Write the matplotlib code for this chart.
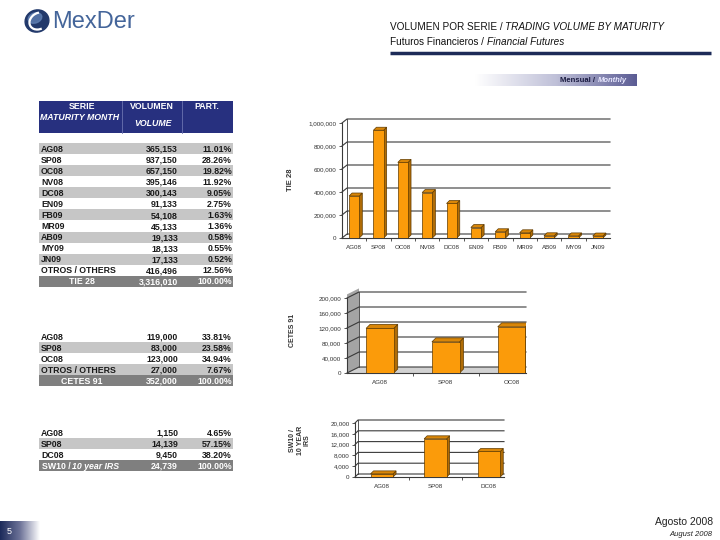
import numpy as np
import matplotlib
matplotlib.use("Agg")
import matplotlib.pyplot as plt
import matplotlib.colors as mcolors
from matplotlib.patches import Polygon, Ellipse, Arc, Rectangle

plt.rcParams['font.family'] = ['Liberation Sans', 'DejaVu Sans']

# ---- data ----
tie_series = ['AG08', 'SP08', 'OC08', 'NV08', 'DC08', 'EN09', 'FB09', 'MR09', 'AB09', 'MY09', 'JN09']
tie_volume = [365153, 937150, 657150, 395146, 300143, 91133, 54108, 45133, 19133, 18133, 17133]
tie_part = [11.01, 28.26, 19.82, 11.92, 9.05, 2.75, 1.63, 1.36, 0.58, 0.55, 0.52]
tie_others = (416496, 12.56)
tie_total = 3316010

cetes_series = ['AG08', 'SP08', 'OC08']
cetes_volume = [119000, 83000, 123000]
cetes_part = [33.81, 23.58, 34.94]
cetes_others = (27000, 7.67)
cetes_total = 352000

sw_series = ['AG08', 'SP08', 'DC08']
sw_volume = [1150, 14139, 9450]
sw_part = [4.65, 57.15, 38.20]
sw_total = 24739

W, H = 720, 540
NAVY = '#27307f'
ORANGE = '#fb9b0a'
SIDE = '#b06c06'
TOP = '#d98608'
EDGE = '#5e3a00'
VA = 'baseline'
BL = 3.1  # baseline offset below row centre, px

fig = plt.figure(figsize=(7.2, 5.4), dpi=100)
bg = fig.add_axes([0, 0, 1, 1])
bg.set_xlim(0, W)
bg.set_ylim(H, 0)
bg.axis('off')

# logo
bg.add_patch(Ellipse((37, 21), 24, 22, angle=-20, color='#22396b'))
bg.add_patch(Ellipse((35, 18), 14, 10, angle=-20, color='#5f7fb2', alpha=0.8))
bg.add_patch(Arc((39, 21), 20, 16, angle=-30, theta1=100, theta2=300, color='white', lw=1.6))
bg.text(52, 22, 'MexDer', fontsize=17, color='#44659a', va='center', ha='left')

# header title
t1 = bg.text(390, 30, 'VOLUMEN POR SERIE / ', fontsize=7.2, color='#111', va='baseline')
bg.annotate('TRADING VOLUME BY MATURITY', xy=(1, 0), xycoords=t1, fontsize=7.2,
            style='italic', color='#111', va='bottom')
t2 = bg.text(390, 45, 'Futuros Financieros / ', fontsize=7.2, color='#111', va='baseline')
bg.annotate('Financial Futures', xy=(1, 0), xycoords=t2, fontsize=7.2,
            style='italic', color='#111', va='bottom')
bg.plot([390, 711], [53, 53], color='#1d2b58', lw=2.5, solid_capstyle='butt')

# monthly banner
grad = np.linspace(0, 1, 256).reshape(1, -1)
cm_month = mcolors.LinearSegmentedColormap.from_list('m', ['#ffffff', '#bfc0d8', '#5b5c94'])
bg.imshow(grad, cmap=cm_month, extent=[475, 637, 86, 74], aspect='auto', zorder=1)
bg.text(597, 80.5, 'Mensual / ', fontsize=5.5, weight='bold', color='#1a1a40',
        ha='right', va='center', zorder=2)
bg.text(598, 80.5, 'Monthly', fontsize=5.5, weight='bold', style='italic', color='#e8e8ff',
        ha='left', va='center', zorder=2)

# page number box
cm_page = mcolors.LinearSegmentedColormap.from_list('p', ['#1c2a5a', '#6d7398', '#ffffff'])
bg.imshow(grad, cmap=cm_page, extent=[0, 40, 540, 521], aspect='auto', zorder=1)
bg.text(9, 531, '5', fontsize=6.5, color='white', va='center', ha='center', zorder=2)
bg.text(713, 522, 'Agosto 2008', fontsize=7.5, color='#222', ha='right', va='center')
bg.text(712, 535, 'August 2008', fontsize=5.5, style='italic', color='#222', ha='right', va='center')

# ---- tables ----
X0, X1 = 39, 233
RH = 11.07
FS = 6.3


def table_row(y, label, vol, pct, fill):
    if fill:
        bg.add_patch(Rectangle((X0, y), X1 - X0, RH, color=fill, lw=0))
    yb = y + RH / 2 + BL
    bg.text(41, yb, label, fontsize=FS, weight='bold', color='#1a1a1a', va=VA)
    bg.text(178, yb, f'{vol:,}', fontsize=FS, weight='bold', color='#1a1a1a', va=VA, ha='right')
    bg.text(232, yb, f'{pct:.2f}%', fontsize=FS, weight='bold', color='#1a1a1a', va=VA, ha='right')


def total_row(y, label, vol, italic_tail=None):
    bg.add_patch(Rectangle((X0, y), X1 - X0, RH, color='#7f7f7f', lw=0))
    yb = y + RH / 2 + BL
    if italic_tail:
        tl = bg.text(42, yb, label, fontsize=FS, weight='bold', color='white', va=VA)
        bg.text(72, yb, italic_tail, fontsize=FS, weight='bold', style='italic',
                color='white', va=VA)
    else:
        bg.text(82, yb, label, fontsize=FS, weight='bold', color='white', va=VA, ha='center')
    bg.text(178, yb, f'{vol:,}', fontsize=FS, weight='bold', color='white', va=VA, ha='right')
    bg.text(232, yb, '100.00%', fontsize=FS, weight='bold', color='white', va=VA, ha='right')


# header of first table
bg.add_patch(Rectangle((X0, 101), X1 - X0, 32, color=NAVY, lw=0))
for xs in (122, 182):
    bg.plot([xs, xs], [101, 133], color='#6b72b0', lw=0.6)
bg.text(82, 106 + BL, 'SERIE', fontsize=FS, weight='bold', color='white', ha='center', va=VA)
bg.text(80, 117 + BL, 'MATURITY MONTH', fontsize=FS, weight='bold', style='italic', color='white',
        ha='center', va=VA)
bg.text(152, 106 + BL, 'VOLUMEN', fontsize=FS, weight='bold', color='white', ha='center', va=VA)
bg.text(153, 123 + BL, 'VOLUME', fontsize=FS, weight='bold', style='italic', color='white',
        ha='center', va=VA)
bg.text(207, 106 + BL, 'PART.', fontsize=FS, weight='bold', color='white', ha='center', va=VA)

y = 143
for i, (s, v, p) in enumerate(zip(tie_series, tie_volume, tie_part)):
    table_row(y, s, v, p, '#c6c6c6' if i % 2 == 0 else None)
    y += RH
table_row(y, 'OTROS / OTHERS', tie_others[0], tie_others[1], None)
total_row(y + RH, 'TIE 28', tie_total)

y = 331
for i, (s, v, p) in enumerate(zip(cetes_series, cetes_volume, cetes_part)):
    table_row(y, s, v, p, '#c6c6c6' if i % 2 == 1 else None)
    y += RH
table_row(y, 'OTROS / OTHERS', cetes_others[0], cetes_others[1], '#c6c6c6')
total_row(y + RH, 'CETES 91', cetes_total)

y = 427
for i, (s, v, p) in enumerate(zip(sw_series, sw_volume, sw_part)):
    table_row(y, s, v, p, '#c6c6c6' if i % 2 == 1 else None)
    y += RH
total_row(y, 'SW10 / ', sw_total, italic_tail='10 year IRS')


# ---- 3D-look bar charts ----
def bar_chart(box, labels, vals, ymax, step, xmax, wall, side, shade=False):
    l, r, t, b = box
    ax = fig.add_axes([l / W, 1 - b / H, (r - l) / W, (b - t) / H])
    ax.set_xlim(-0.5, xmax)
    ax.set_ylim(0, ymax)
    ax.patch.set_visible(False)
    for sp in ax.spines.values():
        sp.set_visible(False)
    xpp = (xmax + 0.5) / (r - l)
    ypp = ymax / (b - t)
    wdx, wdy = wall[0] * xpp, wall[1] * ypp
    sdx, sdy = side[0] * xpp, side[1] * ypp
    ticks = np.arange(0, ymax + 1, step)
    if shade:
        ax.add_patch(Polygon([(-0.5, 0), (-0.5 + wdx, wdy), (-0.5 + wdx, ymax + 1.6 * wdy),
                              (-0.5, ymax + 0.6 * wdy)], closed=True, color='#a4a4a4',
                             lw=0, clip_on=False, zorder=1))
        ax.add_patch(Polygon([(-0.5, 0), (-0.5 + wdx, wdy), (xmax, wdy), (xmax, 0)],
                             closed=True, color='#d2d2d2', lw=0, clip_on=False, zorder=1))
    for v in ticks:
        ax.plot([-0.5, -0.5 + wdx, xmax], [v, v + wdy, v + wdy], color='#3a3a3a', lw=0.8,
                clip_on=False, zorder=2)
    ax.plot([-0.5, -0.5], [0, ymax], color='#3a3a3a', lw=0.8, clip_on=False, zorder=2)
    ax.plot([-0.5 + wdx] * 2, [wdy, ymax + wdy], color='#3a3a3a', lw=0.6, clip_on=False, zorder=2)
    ax.plot([-0.5, xmax], [0, 0], color='#3a3a3a', lw=0.8, clip_on=False, zorder=2)
    x = np.arange(len(vals))
    w = 0.42
    for xi, v in zip(x, vals):
        ax.add_patch(Polygon([(xi + w / 2, 0), (xi + w / 2 + sdx, sdy), (xi + w / 2 + sdx, v + sdy),
                              (xi + w / 2, v)], closed=True, fc=SIDE, ec=EDGE, lw=0.5, zorder=3))
        ax.add_patch(Polygon([(xi - w / 2, v), (xi - w / 2 + sdx, v + sdy), (xi + w / 2 + sdx, v + sdy),
                              (xi + w / 2, v)], closed=True, fc=TOP, ec=EDGE, lw=0.5, zorder=3))
    ax.bar(x, vals, width=w, color=ORANGE, edgecolor=EDGE, linewidth=0.5, zorder=4)
    ax.set_yticks(ticks)
    ax.set_yticklabels([f'{int(v):,}' for v in ticks])
    ax.set_xticks(x)
    ax.set_xticklabels(labels)
    ax.set_xticks(np.arange(0.5, len(vals) - 0.5), minor=True)
    ax.tick_params(axis='y', labelsize=4.5, labelcolor='#333', length=2, width=0.6,
                   color='#3a3a3a', pad=2)
    ax.tick_params(axis='x', which='major', labelsize=4.5, labelcolor='#333', length=0, pad=5)
    ax.tick_params(axis='x', which='minor', length=2.5, width=0.6, color='#3a3a3a')
    return ax


bar_chart((342, 610, 123, 238), tie_series, tie_volume, 1000000, 200000, 10.5, (5, 4), (3, 3))
bar_chart((347, 526, 298, 373), cetes_series, cetes_volume, 200000, 40000, 2.22, (12, 6), (4, 4),
          shade=True)
bar_chart((355, 504, 423, 477), sw_series, sw_volume, 20000, 4000, 2.28, (3, 3), (3, 3))

# chart side titles
bg.text(290, 180, 'TIE 28', rotation=90, fontsize=5.5, weight='bold', color='#333',
        ha='center', va='center')
bg.text(292, 330, 'CETES 91', rotation=90, fontsize=5, weight='bold', color='#333',
        ha='center', va='center')
bg.text(300, 440, 'SW10 /\n10 YEAR\nIRS', rotation=90, fontsize=5, weight='bold', color='#333',
        ha='center', va='center', multialignment='center', linespacing=1.0)

fig.savefig('out.png', dpi=100)
